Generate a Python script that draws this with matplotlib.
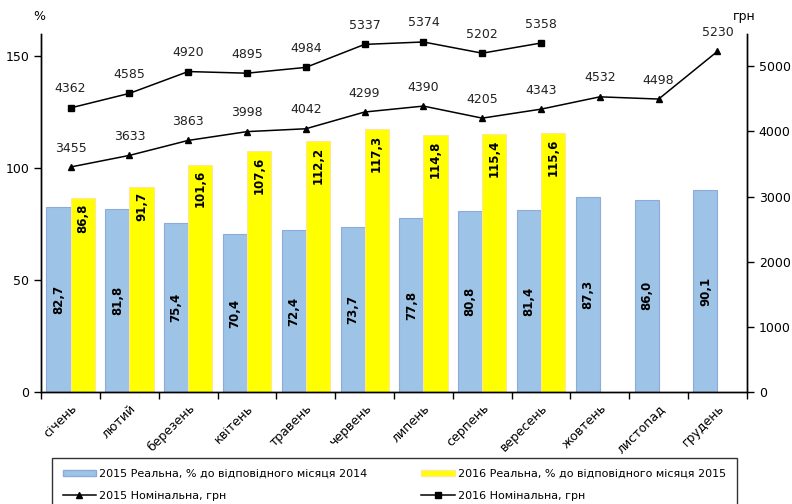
import matplotlib
matplotlib.use("Agg")
import matplotlib.pyplot as plt
from matplotlib.patches import Patch
from matplotlib.lines import Line2D
import numpy as np

months = ["січень", "лютий", "березень", "квітень", "травень", "червень",
          "липень", "серпень", "вересень", "жовтень", "листопад", "грудень"]
real_2015 = [82.7, 81.8, 75.4, 70.4, 72.4, 73.7, 77.8, 80.8, 81.4, 87.3, 86.0, 90.1]
real_2016 = [86.8, 91.7, 101.6, 107.6, 112.2, 117.3, 114.8, 115.4, 115.6]
nom_2015 = [3455, 3633, 3863, 3998, 4042, 4299, 4390, 4205, 4343, 4532, 4498, 5230]
nom_2016 = [4362, 4585, 4920, 4895, 4984, 5337, 5374, 5202, 5358]

lbl_real15 = "2015 Реальна, % до відповідного місяця 2014"
lbl_real16 = "2016 Реальна, % до відповідного місяця 2015"
lbl_nom15 = "2015 Номінальна, грн"
lbl_nom16 = "2016 Номінальна, грн"

plt.rcParams['font.family'] = ['DejaVu Sans']

fig = plt.figure(figsize=(7.92, 5.04), dpi=100)
ax = fig.add_axes([0.052, 0.222, 0.891, 0.711])
ax2 = ax.twinx()

blue = '#9dc3e6'
blue_edge = '#8eaadb'
yellow = '#ffff00'
yellow_edge = '#ffe699'

w = 0.41
x15 = np.arange(len(real_2015))
x16 = np.arange(len(real_2016))
ax.bar(x15 - w / 2, real_2015, width=w, color=blue, edgecolor=blue_edge, linewidth=0.8, zorder=2)
ax.bar(x16 + w / 2, real_2016, width=w, color=yellow, edgecolor=yellow_edge, linewidth=0.8, zorder=2)

for xi, v in zip(x15, real_2015):
    ax.text(xi - w / 2, v / 2, f"{v:.1f}".replace('.', ','), rotation=90,
            ha='center', va='center', fontsize=8.5, fontweight='bold', color='black', zorder=3)
for xi, v in zip(x16, real_2016):
    ax.text(xi + w / 2, v - 2.5, f"{v:.1f}".replace('.', ','), rotation=90,
            ha='center', va='top', fontsize=8.5, fontweight='bold', color='black', zorder=3)

ax2.plot(x15, nom_2015, color='black', lw=1.1, marker='^', ms=5, zorder=4)
ax2.plot(x16, nom_2016, color='black', lw=1.1, marker='s', ms=5, zorder=4)
for xi, v in zip(x15, nom_2015):
    ax2.annotate(str(v), (xi, v), xytext=(0, 9), textcoords='offset points',
                 ha='center', va='bottom', fontsize=9, color='#222222')
for xi, v in zip(x16, nom_2016):
    ax2.annotate(str(v), (xi, v), xytext=(0, 9), textcoords='offset points',
                 ha='center', va='bottom', fontsize=9, color='#222222')

ax.set_xlim(-0.5, len(months) - 0.5)
ax.set_ylim(0, 160)
ax2.set_ylim(0, 5500)
ax.set_yticks([0, 50, 100, 150])
ax2.set_yticks([0, 1000, 2000, 3000, 4000, 5000])

ax.set_xticks(np.arange(len(months)))
ax.set_xticklabels(months, rotation=45, ha='right', rotation_mode='anchor', fontsize=9)
ax.set_xticks(np.arange(-0.5, len(months)), minor=True)
ax.tick_params(axis='x', which='major', length=0, pad=7)
ax.tick_params(axis='x', which='minor', length=5, direction='out', width=1)

ax.tick_params(axis='y', labelsize=9, length=5, width=1, direction='out')
ax2.tick_params(axis='y', labelsize=9, length=5, width=1, direction='out')

for a in (ax, ax2):
    a.spines['top'].set_visible(False)
    for s in ('left', 'right', 'bottom'):
        a.spines[s].set_color('black')
        a.spines[s].set_linewidth(1.0)

fig.text(0.05, 0.968, "%", fontsize=9, ha='center', va='center')
fig.text(0.94, 0.968, "грн", fontsize=9, ha='center', va='center')

handles = [
    Patch(facecolor=blue, edgecolor=blue_edge, label=lbl_real15),
    Line2D([0], [0], color='black', lw=1.1, marker='^', ms=4, label=lbl_nom15),
    Patch(facecolor=yellow, edgecolor=yellow_edge, label=lbl_real16),
    Line2D([0], [0], color='black', lw=1.1, marker='s', ms=4, label=lbl_nom16),
]
leg = fig.legend(handles=handles, loc='upper left', bbox_to_anchor=(0.066, -0.03, 0.864, 0.121),
                 mode='expand', ncol=2, frameon=True, fancybox=False, borderaxespad=0,
                 handlelength=3.0, handleheight=0.45, handletextpad=0.3, labelspacing=1.1,
                 borderpad=0.95, prop={'family': 'DejaVu Sans', 'size': 8})
leg.get_frame().set_edgecolor('black')
leg.get_frame().set_linewidth(1.0)

fig.savefig("out.png", dpi=100)
